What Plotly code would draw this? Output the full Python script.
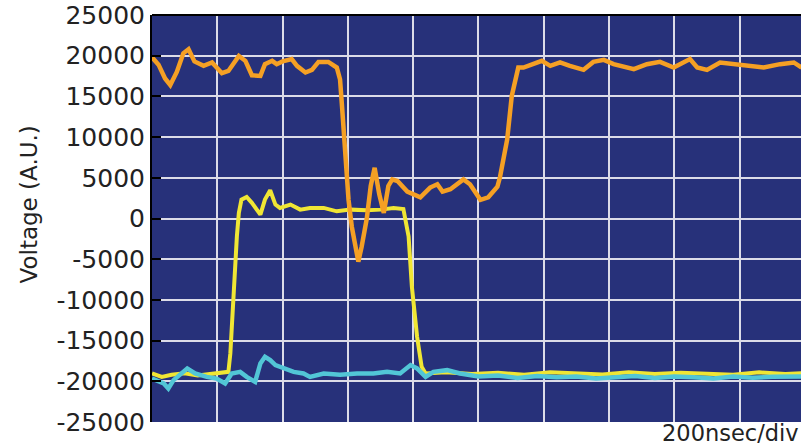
import plotly.graph_objects as go

NS_PER_DIV = 200

# Orange trace (division, value)
orange_div = [0.00, 0.10, 0.20, 0.28, 0.38, 0.48, 0.56, 0.65, 0.79, 0.92, 1.07, 1.17, 1.33, 1.43,
              1.53, 1.66, 1.73, 1.84, 1.91, 2.00, 2.14, 2.22, 2.35, 2.45, 2.55, 2.70, 2.83, 2.88,
              2.91, 2.96, 3.01, 3.06, 3.12, 3.16, 3.21, 3.29, 3.35, 3.41, 3.48, 3.55, 3.62, 3.68,
              3.76, 3.91, 4.11, 4.26, 4.37, 4.45, 4.57, 4.77, 4.87, 5.03, 5.15, 5.29, 5.33,
              5.44, 5.51, 5.61, 5.69, 5.82, 5.97, 6.10, 6.25, 6.40, 6.61, 6.76, 6.92, 7.07, 7.38,
              7.58, 7.78, 7.99, 8.24, 8.35, 8.50, 8.70, 8.96, 9.16, 9.37, 9.62, 9.83, 9.95]
orange_val = [19800, 18900, 17200, 16400, 18000, 20300, 20800, 19300, 18750, 19170, 17850, 18130, 19980, 19370,
              17600, 17520, 18960, 19370, 18960, 19300, 19580, 18750, 17940, 18260, 19240, 19240, 18550, 17100,
              13820, 8480, 2300, -1000, -4000, -5300, -3500, 0, 4000, 6230, 3000, 680, 4000, 4800,
              4600, 3300, 2600, 3800, 4200, 3300, 3600, 4800, 4200, 2300, 2600, 3900, 5100,
              9720, 15050, 18550, 18550, 18960, 19370, 18750, 19170, 18750, 18260, 19240, 19490, 18960, 18350,
              18960, 19240, 18550, 19580, 18550, 18260, 19170, 18960, 18750, 18550, 18960, 19170, 18550]

# Yellow trace
yellow_div = [0.00, 0.15, 0.30, 0.50, 0.70, 0.90, 1.05, 1.17, 1.20, 1.25, 1.30, 1.33, 1.37, 1.45,
              1.53, 1.66, 1.73, 1.81, 1.89, 1.96, 2.12, 2.27, 2.42, 2.63, 2.83, 3.04, 3.29, 3.50,
              3.70, 3.85, 3.90, 3.93, 3.98, 4.06, 4.13, 4.19, 4.50, 4.90, 5.30, 5.70, 6.10, 6.50,
              6.90, 7.30, 7.70, 8.10, 8.50, 8.90, 9.30, 9.70, 9.95]
yellow_val = [-19040, -19460, -19200, -19000, -19300, -19100, -19040, -18840, -16570, -8360, -2200, 680, 2320, 2650,
              1920, 470, 2320, 3470, 1710, 1300, 1710, 1090, 1300, 1300, 880, 1090, 1000, 1090,
              1300, 1170, -1380, -2200, -8360, -14530, -18220, -19040, -18900, -19100, -18950, -19200, -18900, -19050,
              -19150, -18900, -19100, -18950, -19050, -19200, -18900, -19100, -19000]

# Cyan trace
cyan_div = [0.00, 0.18, 0.25, 0.33, 0.54, 0.66, 0.84, 0.99, 1.12, 1.22, 1.35, 1.45, 1.58, 1.66,
            1.73, 1.81, 1.89, 2.02, 2.17, 2.32, 2.42, 2.63, 2.88, 3.14, 3.39, 3.60, 3.80, 3.96,
            4.06, 4.19, 4.31, 4.52, 4.72, 5.00, 5.30, 5.60, 5.90, 6.20, 6.50, 6.80, 7.10, 7.40,
            7.70, 8.00, 8.30, 8.60, 8.90, 9.20, 9.50, 9.80, 9.95]
cyan_val = [-19660, -20270, -20890, -19860, -18420, -19040, -19460, -19660, -20270, -19040, -18840, -19460, -20070, -17800,
            -16990, -17400, -18010, -18420, -18840, -19040, -19460, -19040, -19200, -19040, -19040, -18840, -19040, -18010,
            -18420, -19460, -18840, -18630, -19040, -19400, -19300, -19600, -19350, -19500, -19400, -19650, -19450, -19350,
            -19600, -19400, -19500, -19650, -19400, -19550, -19450, -19500, -19400]

y_ticks = [-25000, -20000, -15000, -10000, -5000, 0, 5000, 10000, 15000, 20000, 25000]

to_ns = lambda d: [v * NS_PER_DIV for v in d]

fig = go.Figure()
fig.add_trace(go.Scatter(x=to_ns(yellow_div), y=yellow_val, mode="lines",
                         line=dict(color="#f0e634", width=4)))
fig.add_trace(go.Scatter(x=to_ns(orange_div), y=orange_val, mode="lines",
                         line=dict(color="#f5a024", width=4.5)))
fig.add_trace(go.Scatter(x=to_ns(cyan_div), y=cyan_val, mode="lines",
                         line=dict(color="#52c6d6", width=4.5)))

fig.update_layout(
    width=801, height=447,
    margin=dict(l=152, r=0, t=15, b=25, autoexpand=False),
    paper_bgcolor="white",
    plot_bgcolor="#27317a",
    showlegend=False,
    font=dict(family="DejaVu Sans", color="#222222"),
    xaxis=dict(range=[0, 9.94 * NS_PER_DIV], dtick=NS_PER_DIV, tick0=0,
               showticklabels=False, showgrid=True, gridcolor="#dcdce8", gridwidth=2,
               zeroline=False, showline=False, ticks="", automargin=False),
    yaxis=dict(range=[-25000, 25000], tickvals=y_ticks, ticktext=[str(v) for v in y_ticks],
               showgrid=True, gridcolor="#dcdce8", gridwidth=2, zeroline=False,
               showline=True, linecolor="black", linewidth=2, automargin=False,
               ticks="inside", ticklen=9, tickwidth=2, tickcolor="black",
               ticklabeloverflow="allow",
               tickfont=dict(size=25, family="DejaVu Sans", color="#222222")),
    shapes=[dict(type="line", xref="paper", yref="paper", x0=0, x1=1, y0=1, y1=1,
                 line=dict(color="black", width=2))],
    annotations=[
        dict(text="200nsec/div", xref="paper", yref="paper", x=1, y=0,
             xanchor="right", yanchor="bottom", showarrow=False, yshift=-25, xshift=-1,
             borderpad=0,
             font=dict(size=22.5, family="DejaVu Sans", color="#222222")),
        dict(text="Voltage (A.U.)", xref="paper", yref="paper", x=0, y=0.5,
             xanchor="center", yanchor="middle", xshift=-124, yshift=14, textangle=-90,
             showarrow=False, font=dict(size=23, family="DejaVu Sans", color="#222222")),
    ],
)

fig.write_html("out.html", config={"displayModeBar": False},
               post_script="document.body.style.margin='0';document.body.style.overflow='hidden';")
